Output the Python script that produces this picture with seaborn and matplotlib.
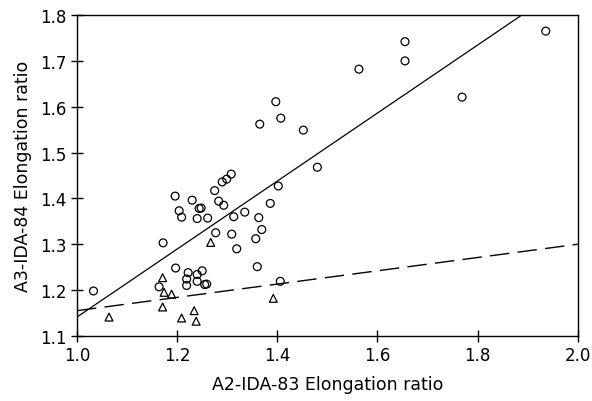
import numpy as np
import pandas as pd
import matplotlib
matplotlib.use("Agg")
import matplotlib.pyplot as plt
import seaborn as sns

# circles
circ_x = [1.033, 1.164, 1.172, 1.196, 1.204, 1.209, 1.197, 1.219, 1.219, 1.222,
          1.230, 1.240, 1.240, 1.240, 1.250, 1.244, 1.248, 1.255, 1.259, 1.261,
          1.275, 1.283, 1.277, 1.290, 1.293, 1.299, 1.308, 1.309, 1.313, 1.319,
          1.335, 1.357, 1.360, 1.363, 1.365, 1.369, 1.386, 1.397, 1.402, 1.407,
          1.406, 1.452, 1.480, 1.563, 1.655, 1.655, 1.769, 1.936]
circ_y = [1.198, 1.207, 1.303, 1.405, 1.373, 1.359, 1.248, 1.224, 1.210, 1.238,
          1.396, 1.356, 1.234, 1.219, 1.242, 1.378, 1.379, 1.212, 1.213, 1.357,
          1.417, 1.394, 1.325, 1.436, 1.385, 1.442, 1.453, 1.322, 1.360, 1.290,
          1.370, 1.312, 1.251, 1.358, 1.562, 1.332, 1.389, 1.611, 1.427, 1.575,
          1.219, 1.549, 1.468, 1.682, 1.700, 1.742, 1.621, 1.765]

# triangles
tri_x = [1.064, 1.171, 1.174, 1.189, 1.171, 1.209, 1.234, 1.238, 1.267, 1.392]
tri_y = [1.141, 1.227, 1.195, 1.191, 1.163, 1.139, 1.155, 1.132, 1.304, 1.182]

# fitted lines (endpoints)
line_x = [1.0, 2.0]
solid_y = [1.141, 1.883]
dashed_y = [1.155, 1.300]

df = pd.DataFrame({
    "x": circ_x + tri_x,
    "y": circ_y + tri_y,
    "group": ["c"] * len(circ_x) + ["t"] * len(tri_x),
})

sns.set_style("ticks")
plt.rcParams["font.family"] = ["DejaVu Sans"]

fig = plt.figure(figsize=(5.92, 4.02), dpi=100)
ax = fig.add_axes([0.130, 0.162, 0.846, 0.798])

sns.scatterplot(data=df, x="x", y="y", style="group",
                markers={"c": "o", "t": "^"}, s=32,
                facecolors="none", edgecolor="black", linewidth=0.9,
                legend=False, ax=ax)
# seaborn fills markers; make them hollow
for coll in ax.collections:
    coll.set_facecolor("none")
    coll.set_edgecolor("black")

ax.plot(line_x, solid_y, color="black", lw=0.9)
ax.plot(line_x, dashed_y, color="black", lw=1.0, dashes=(14, 6))

ax.set_xlim(1.0, 2.0)
ax.set_ylim(1.1, 1.8)
ax.set_xticks([1.0, 1.2, 1.4, 1.6, 1.8, 2.0])
ax.set_yticks([1.1, 1.2, 1.3, 1.4, 1.5, 1.6, 1.7, 1.8])
ax.tick_params(direction="inout", length=8, width=1, labelsize=12, colors="black")
ax.set_xlabel("A2-IDA-83 Elongation ratio", fontsize=12.5, labelpad=8, color="black")
ax.set_ylabel("A3-IDA-84 Elongation ratio", fontsize=12.5, labelpad=6, color="black")
for sp in ax.spines.values():
    sp.set_color("black")
    sp.set_linewidth(1)

fig.savefig("out.png", dpi=100)
